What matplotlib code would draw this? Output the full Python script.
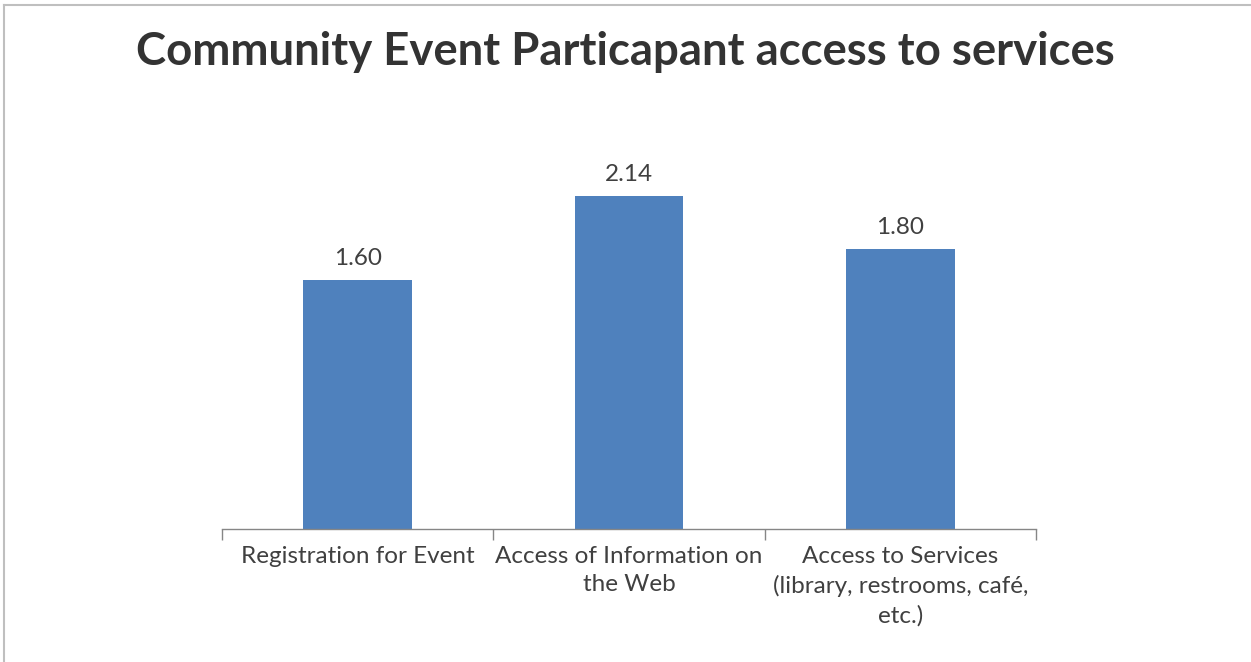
import matplotlib
matplotlib.use("Agg")
import matplotlib.pyplot as plt
from matplotlib.lines import Line2D

categories = ["Registration for Event", "Access of Information on\nthe Web",
              "Access to Services\n(library, restrooms, café,\netc.)"]
values = [1.60, 2.14, 1.80]
title = "Community Event Particapant access to services"

fig = plt.figure(figsize=(12.51, 6.62), dpi=100)
ax = fig.add_axes([0.1775, 0.2009, 0.6507, 0.5876])
x = list(range(len(categories)))
ax.bar(x, values, width=0.4, color="#4F81BD", zorder=2)
for xi, v in zip(x, values):
    ax.annotate(f"{v:.2f}", (xi, v), xytext=(0, 8), textcoords="offset points",
                ha="center", va="bottom", fontsize=17.5, color="#404040", family="Lato")
ax.set_xlim(-0.5, len(categories) - 0.5)
ax.set_ylim(0, 2.5)
for s in ["top", "right", "left"]:
    ax.spines[s].set_visible(False)
ax.spines["bottom"].set_color("#868686")
ax.spines["bottom"].set_linewidth(1)
ax.set_yticks([])
ax.set_xticks(x)
ax.set_xticklabels(categories, fontsize=17.5, color="#404040", family="Lato", linespacing=1.45, va="top")
ax.tick_params(axis="x", which="major", length=0, pad=12)
ax.set_xticks([i - 0.5 for i in range(len(categories) + 1)], minor=True)
ax.tick_params(axis="x", which="minor", length=8, color="#868686", width=1)

fig.text(0.5, 0.922, title, ha="center", va="center", fontsize=32.8, fontweight="bold",
         color="#333333", family="Lato")
fig.add_artist(Line2D([0.0035, 1.0], [0.9925, 0.9925], color="#BFBFBF", lw=1.5, transform=fig.transFigure))
fig.add_artist(Line2D([0.0035, 0.0035], [0.0, 0.9925], color="#BFBFBF", lw=1.5, transform=fig.transFigure))
fig.savefig("out.png", dpi=100)
